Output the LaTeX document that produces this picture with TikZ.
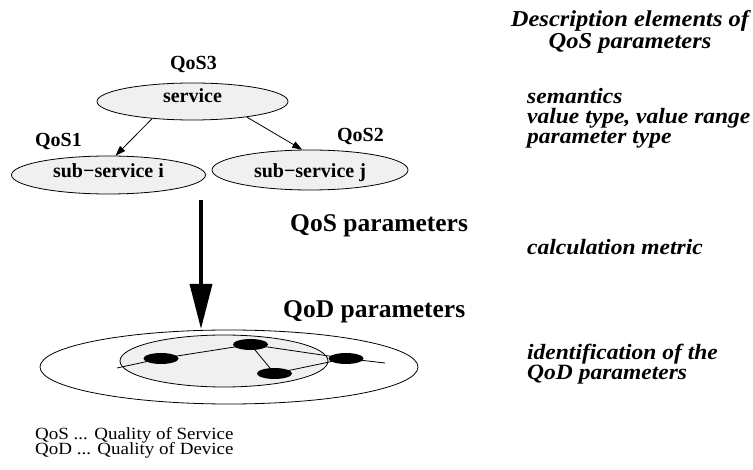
\documentclass[tikz,border=0pt]{standalone}
\usepackage{fontspec}
\setmainfont{Liberation Serif}
\usetikzlibrary{shapes.geometric,arrows.meta}
\pgfdeclarelayer{back}
\pgfdeclarelayer{edges}
\pgfsetlayers{back,edges,main}
\begin{document}
\begin{tikzpicture}[x=1pt,y=-1pt,
  svcnode/.style={ellipse, draw, line width=0.8pt, fill=black!6, inner sep=0pt,
    text depth=0pt, font=\fontsize{20}{24}\selectfont\bfseries},
  tag/.style={anchor=base, inner sep=0pt, font=\fontsize{20}{24}\selectfont\bfseries},
  head/.style={anchor=base west, inner sep=0pt, font=\fontsize{25.5}{30}\selectfont\bfseries},
  ttl/.style={anchor=base, inner sep=0pt, yscale=0.93, font=\fontsize{24.5}{28}\selectfont\bfseries\itshape},
  note/.style={anchor=base west, inner sep=0pt, yscale=0.93, font=\fontsize{23.5}{28}\selectfont\bfseries\itshape},
  legend/.style={anchor=base west, inner sep=0pt, yscale=0.9, font=\fontsize{19}{22}\selectfont},
  arr/.style={-{Triangle[length=10pt,width=7pt]}, line width=0.8pt},
  flow/.style={line width=3.5pt, -{Triangle[length=45pt,width=22pt]}},
  ring/.style={ellipse, draw, line width=0.8pt, inner sep=0pt},
  dev/.style={ellipse, fill=black, inner sep=0pt, minimum width=35pt, minimum height=11pt},
  link/.style={line width=0.8pt}
]
\useasboundingbox (0,0) rectangle (753,470);

% service hierarchy
\node[svcnode, minimum width=191pt, minimum height=37pt, text height=3pt] (svc) at (192.5,101.5) {service};
\node[svcnode, minimum width=194pt, minimum height=38pt, text height=6pt] (sub1) at (108.5,175) {sub−service i};
\node[svcnode, minimum width=196pt, minimum height=40pt, text height=16pt] (sub2) at (310,170) {sub−service j};
\node[tag] (q3) at (193.5,70) {QoS3};
\node[tag] (q1) at (58.5,147) {QoS1};
\node[tag] (q2) at (360.5,142) {QoS2};
\draw[arr] (svc.-157) -- (sub1.70);
\draw[arr] (svc.-16) -- (sub2.111);

% mapping arrow
\coordinate (flowtop) at (201,200);
\coordinate (flowtip) at (201,329);
\draw[flow] (flowtop) -- (flowtip);
\node[head] (qosp) at (290,232) {QoS parameters};
\node[head] (qodp) at (283,318) {QoD parameters};

% device network
\begin{pgfonlayer}{back}
  \node[ring, minimum width=378pt, minimum height=74pt] (outer) at (229,367) {};
  \node[ring, fill=black!6, minimum width=208pt, minimum height=52pt] (inner) at (224,361) {};
\end{pgfonlayer}
\node[dev] (d1) at (161,358.5) {};
\node[dev] (d2) at (250.5,344.5) {};
\node[dev] (d3) at (274.5,373.5) {};
\node[dev] (d4) at (346,358.5) {};
\coordinate (lend) at (117,368);
\coordinate (rend) at (385,363);
\begin{pgfonlayer}{edges}
  \draw[link] (lend) -- (d1.center) -- (d2.center) -- (d4.center) -- (rend);
  \draw[link] (d2.center) -- (d3.center) -- (d4.center);
\end{pgfonlayer}

% description elements
\node[ttl] (t1) at (630,26.5) {Description elements of};
\node[ttl] (t2) at (630,49) {QoS parameters};
\node[note] (n1) at (527,104) {semantics};
\node[note] (n2) at (527,124) {value type, value range};
\node[note] (n3) at (527,144) {parameter type};
\node[note] (n4) at (527,255) {calculation metric};
\node[note] (n5) at (527,360) {identification of the};
\node[note] (n6) at (527,380) {QoD parameters};

% legend
\node[legend] (l1) at (35,439) {QoS ... Quality of Service};
\node[legend] (l2) at (35,455) {QoD ... Quality of Device};
\end{tikzpicture}
\end{document}
